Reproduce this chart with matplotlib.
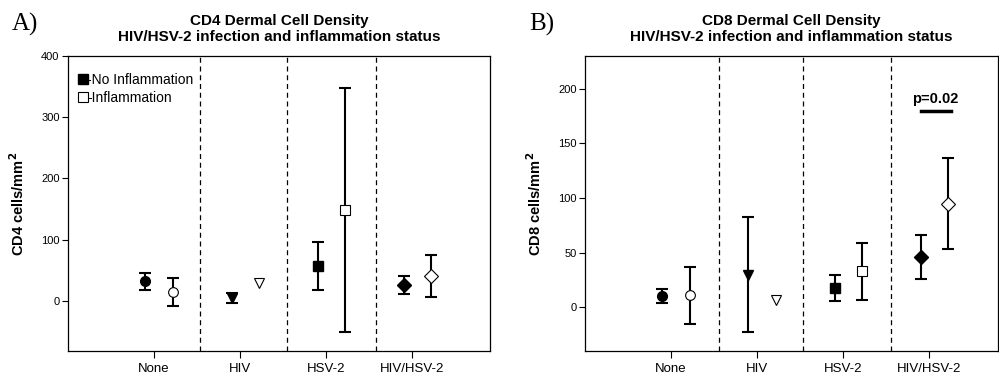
import numpy as np
import matplotlib
matplotlib.use("Agg")
import matplotlib.pyplot as plt
from matplotlib.lines import Line2D

plt.rcParams['font.family'] = ['Liberation Sans', 'DejaVu Sans']

# data
cats = ['None', 'HIV', 'HSV-2', 'HIV/HSV-2']
markers = ['o', 'v', 's', 'D']

cd4_noinf = [32, 5, 57, 26]
cd4_noinf_err = [14, 8, 39, 15]
cd4_inf = [14, 29, 148, 41]
cd4_inf_err = [23, 0, 199, 34]

cd8_noinf = [10, 30, 18, 46]
cd8_noinf_err = [6.5, 53, 12, 20.5]
cd8_inf = [11, 7, 33, 95]
cd8_inf_err = [26, 0, 26, 42]

fig = plt.figure(figsize=(9.99, 3.76), dpi=100)
axA = fig.add_axes([0.068, 0.0665, 0.4225, 0.7845])
axB = fig.add_axes([0.5856, 0.0665, 0.4134, 0.7845])


def panel(ax, noinf, noinf_err, inf, inf_err, ylim, yticks, seps, xmax, ylab, title):
    xs = np.arange(1, len(cats) + 1)
    for i in range(len(cats)):
        x0 = xs[i] - 0.1
        x1 = xs[i] + 0.22
        if noinf_err[i] > 0:
            ax.errorbar(x0, noinf[i], yerr=noinf_err[i], fmt='none', ecolor='black',
                        elinewidth=1.5, capsize=4.5, capthick=1.5, zorder=2)
        ax.plot(x0, noinf[i], marker=markers[i], color='black', markersize=7,
                linestyle='none', zorder=3)
        if inf_err[i] > 0:
            ax.errorbar(x1, inf[i], yerr=inf_err[i], fmt='none', ecolor='black',
                        elinewidth=1.5, capsize=4.5, capthick=1.5, zorder=2)
        ax.plot(x1, inf[i], marker=markers[i], markerfacecolor='white',
                markeredgecolor='black', markeredgewidth=0.8, markersize=7,
                linestyle='none', zorder=3)
    for s in seps:
        ax.axvline(s, color='black', linestyle=(0, (4, 3)), linewidth=0.9, zorder=1)
    ax.set_xlim(0, xmax)
    ax.set_ylim(*ylim)
    ax.set_yticks(yticks)
    ax.set_xticks(xs)
    ax.set_xticklabels(cats, fontsize=9.5)
    ax.tick_params(axis='y', direction='out', length=4, labelsize=8, pad=2)
    ax.tick_params(axis='x', direction='out', length=5, pad=3.5)
    ax.set_ylabel(ylab, fontsize=10.5, fontweight='bold', labelpad=10)
    ax.set_title(title, fontsize=11, fontweight='bold', pad=11, linespacing=1.15)
    for sp in ax.spines.values():
        sp.set_linewidth(0.9)


panel(axA, cd4_noinf, cd4_noinf_err, cd4_inf, cd4_inf_err, (-82, 400),
      [0, 100, 200, 300, 400], [1.535, 2.547, 3.58], 4.9,
      'CD4 cells/mm$^\\mathbf{2}$',
      'CD4 Dermal Cell Density\nHIV/HSV-2 infection and inflammation status')
panel(axB, cd8_noinf, cd8_noinf_err, cd8_inf, cd8_inf_err, (-40, 230),
      [0, 50, 100, 150, 200], [1.56, 2.53, 3.56], 4.8,
      'CD8 cells/mm$^\\mathbf{2}$',
      'CD8 Dermal Cell Density\nHIV/HSV-2 infection and inflammation status')

# legend in panel A
handles = [Line2D([], [], marker='s', color='black', linestyle='none', markersize=7),
           Line2D([], [], marker='s', markerfacecolor='white', markeredgecolor='black',
                  markeredgewidth=0.8, linestyle='none', markersize=7)]
axA.legend(handles, ['-No Inflammation', '-Inflammation'], loc='upper left',
           bbox_to_anchor=(0.0, 0.98), frameon=False, handlelength=0.6,
           handletextpad=0.0, labelspacing=0.25, fontsize=10, borderaxespad=0.4)

# significance annotation in panel B
axB.plot([3.9, 4.25], [180, 180], color='black', linewidth=2.5)
axB.text(4.07, 184, 'p=0.02', ha='center', va='bottom', fontsize=10.5, fontweight='bold')

fig.text(0.012, 0.935, 'A)', family='Liberation Serif', fontsize=18, va='center')
fig.text(0.530, 0.935, 'B)', family='Liberation Serif', fontsize=18, va='center')

fig.savefig('out.png', dpi=100)
